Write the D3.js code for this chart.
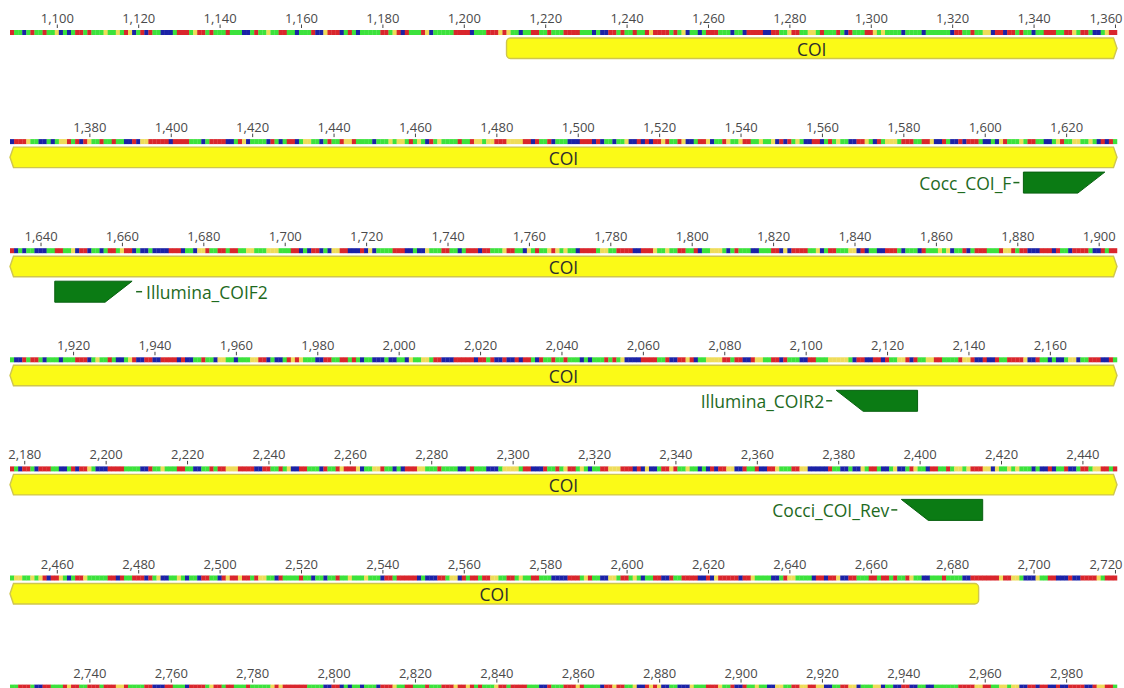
<!DOCTYPE html>
<html>
<head>
<meta charset="utf-8">
<script src="https://cdn.jsdelivr.net/npm/d3@7"></script>
<style>
  html, body { margin: 0; padding: 0; background: #ffffff; }
  svg { display: block; }
</style>
</head>
<body>
<svg id="chart" width="1124" height="688"></svg>
<script>
// ---- sequence data: one string per display row (272 bases each), spaces every 10 bases ----
const firstBase = 1089;
const basesPerRow = 272;
const seqRows = [
  "ATTCTATTAT TGCTCTAATA TTTGTTGTAG CTACATTCCC TAAATGAATA TTTATTTCCT ATTGTTAATT CTTTACCGAA ACTATCTTTT TAATGACATT TAGCTTTTTA AAACTTTAAA GAGTTCTTAA TTATTT" +
  "AAAATTTCTC CAATATTATT AGAAAATATG CTTCTAAATT TCTTCAAAAC CAATTGAATT GGTATTTATC ATTTAAGTGT TTTCTTTTCT TTTTTCAATT ATTGGCAACA ATATTCTTAA ATTAAGTAAT CCTGAA",
  "CAAAGTTCCT CTGGATACAG TTATTATTCC ACGGAAAAAC AAAATTTCTA AAACCTAGCT TTTCATCTAA CTGGTTCTAT TAGGATTTTC TTTGTGGTAT GTCATGTTTT ATTAGGTGGA AAGGGGAACA TTACTT" +
  "TCCCAAACAC TTCTTGCCAC ACAAGATTAG CCTAAGCTTA GTTGAATTGT TGCACATGTC CAACTATGTT CCAAGTCATG GGTAAATTAA GCCATCCACA AATCCTCGAT TTGTAATTCC TGATTGGTTG TCACAT",
  "ACTCTTCCCT TAATTGCAAC TTCTAATGAA CTCCTCCCCA AACTTCGGAT TAATAATTGG TTTGGGTTTA ACTCAACTCG GAACCCACGC TTTTAAACCT CCGTTTAATT CTAAACAATT TGAATTCGTA TTGAGT" +
  "GTTCAAAATG GTTAAAACCA AAGTTGTTAA TTACTTGGGT CTATTTCCTT TAACGCAAAA TTGCTAATTT GGCACTTCCA AATCTTTCAT TTGTGCTTAC TAAATTTAGG ATAACCCAAA CATTCAAAAT CCATAA",
  "TCCATAATCT TTCTTTAAAC TGTTATCCTG ACCAACCAAA ACACCTTATT CGGTTCTTTG GAACTCCTAG AGTTTCCAAT TAATATCTTC CCTCCTTCGT TGGTAACCCA AAAACAATAC CACCACAATC ATTATT" +
  "ATTTCTCTTT ATATGCCCCA AAATTACCAA GACTTGGGGA ATAACCAGGT TAACATTTCC AATTTGGGGG TCAACCAACA TTGGACATTG GAATTTTAGG ACCACCATTA AAAGCCATTC TCCTGGCTTA AACCAT",
  "ATCAATCAAA TTCCTACAAG TCCCAAAATT TTCCATTGTT TAATTCCTTA TAAGGGAAAA CCAATTATGC CAATTTCATT AGAAAGCTTG GATTCTCAAA GGTTTATTTT CCTATTTCCC TGGGGTAACC CATTAT" +
  "GAATGTCTTA AGGGAAACAC GCCTAAGATT GTTCTCACAA GGCCATTACC AAGTTTAAGG CCCCCATTCC TCCGTAATCC TGCCTAGTTC AATTATGGTG AAAGGCGTTG TGTTTCTCCA CTTACCTAAT GGAATA",
  "TGGTTGTGAC AAGTCTAAGT TTTTAACATT AAACATGCCT TGTCTTCAAT TCAGAAGAAT AGGTTCATTT TATTCTTCTT ATTGTTTGTT TCAATAAAAA CTCCCAATGG CATAATAAGG TTAATGTTAA TTTCCC" +
  "CAAATGATTC CGGTAATGTC TTAACCATTA AAACCACGAA AAACAAGTTT TCCTAGGTTT TCAACAAGCC AATTTAATAA TATTAGTTCC TTTATTTTCC AAAAAAAGAA GGTCCCGTTA ACCCACCAAA AGTAAA",
  "TTAAATCCAA TTTAGAATTA AATAAAGGAT TTTAACCCAA TTTCAAAATG AATAATTTAT TTTTGAGAAA AAATTTTCCA ACTCTTCTTT CAAAGTTAAT TTATTTAAAG AAGATATTTG AATAAAATTT CCATTT" +
  "AAAGATTTTC AAGAATTGCC AGAGCCTTCC CGTTTAAAGT TACCATTGTT CCGGTTAAGG AAGGCCTTAA GGCTTTGGCT TCCAACCTTC CTTTTTTAAA AGGAATTGGT GGCCAACAAC CACCAAAACC AGGAAT"
];

// ---- annotated gene ----
const featureName = "COI";
const featureStart = 1211;
const featureEnd = 2686;

// ---- primers ----
const primerNames  = ["Cocc_COI_F", "Illumina_COIF2", "Illumina_COIR2", "Cocci_COI_Rev"];
const primerStarts = [1610, 1644, 2108, 2396];
const primerEnds   = [1629, 1662, 2127, 2415];
const primerStrand = ["+", "+", "-", "-"];
const primerLabelSide = ["left", "right", "left", "left"];

const tickStep = 20;
const baseColors = { A: "#d9262c", C: "#1b22a6", G: "#efdc5a", T: "#3ce23c" };

// ---- layout ----
const FONT = "'Open Sans', 'Noto Sans', 'DejaVu Sans', sans-serif";
const xLeft = 10, xRight = 1117;
const firstRowY = 32.5, rowPitch = 109.1;
const svg = d3.select("#chart");

function barPath(xl, xr, top, h, contL, contR) {
  const b = top + h, r = 4, m = top + h / 2, n = 3.5;
  let p = contL ? `M${xl + n},${top}` : `M${xl + r},${top}`;
  if (contR) p += `L${xr - n},${top}L${xr},${m}L${xr - n},${b}`;
  else p += `L${xr - r},${top}A${r},${r} 0 0 1 ${xr},${top + r}L${xr},${b - r}A${r},${r} 0 0 1 ${xr - r},${b}`;
  if (contL) p += `L${xl + n},${b}L${xl},${m}Z`;
  else p += `L${xl + r},${b}A${r},${r} 0 0 1 ${xl},${b - r}L${xl},${top + r}A${r},${r} 0 0 1 ${xl + r},${top}Z`;
  return p;
}

seqRows.forEach((raw, r) => {
  const s = raw.replace(/\s+/g, "").slice(0, basesPerRow);
  const start = firstBase + r * basesPerRow;
  const end = start + basesPerRow - 1;
  const x = d3.scaleLinear().domain([start - 0.5, end + 0.5]).range([xLeft, xRight]);
  const cy = firstRowY + r * rowPitch;
  const g = svg.append("g").attr("class", "row");

  // coloured bases
  const bases = s.split("").map((b, i) => ({ pos: start + i, b }));
  g.append("g").selectAll("rect").data(bases).join("rect")
    .attr("x", d => x(d.pos - 0.5))
    .attr("width", d => x(d.pos + 0.5) - x(d.pos - 0.5) + 0.25)
    .attr("y", cy - 2.5).attr("height", 5)
    .attr("fill", d => baseColors[d.b]);

  // ruler
  const ticks = d3.range(Math.ceil(start / tickStep) * tickStep, end + 1, tickStep);
  const ag = g.append("g")
    .attr("transform", `translate(0,${cy - 4.5})`)
    .call(d3.axisTop(x).tickValues(ticks).tickFormat(d3.format(",")).tickSize(3.5).tickPadding(1.5))
    .attr("font-family", FONT).attr("font-size", 13);
  ag.select(".domain").remove();
  ag.selectAll(".tick line").attr("stroke", "#444");
  ag.selectAll(".tick text").attr("fill", "#4a4a4a");
  ag.selectAll(".tick").each(function (d) {
    const t = d3.select(this).select("text");
    const w = t.node().getComputedTextLength();
    const cx = x(d);
    const nx = Math.max(3 + w / 2, Math.min(1122 - w / 2, cx));
    t.attr("x", nx - cx);
  });

  // gene bar
  const fs = Math.max(featureStart, start), fe = Math.min(featureEnd, end);
  if (fs <= fe) {
    const xl = x(fs - 0.5), xr = x(fe + 0.5), top = cy + 5.5, h = 20.5;
    g.append("path")
      .attr("d", barPath(xl, xr, top, h, featureStart < start, featureEnd > end))
      .attr("fill", "#fbfa17").attr("stroke", "#cfc64e").attr("stroke-width", 1.4);
    g.append("text")
      .attr("x", (xl + xr) / 2).attr("y", top + h / 2 + 0.5)
      .attr("text-anchor", "middle").attr("dominant-baseline", "central")
      .attr("font-family", FONT).attr("font-size", 17.5).attr("fill", "#2d2d2d")
      .text(featureName);
  }

  // primers
  primerNames.forEach((name, k) => {
    const ps = primerStarts[k], pe = primerEnds[k];
    if (ps < start || ps > end) return;
    const xl = x(ps - 0.5), xr = x(pe + 0.5), top = cy + 30.5, h = 21, slant = 27;
    const pts = primerStrand[k] === "+"
      ? [[xl, top], [xr, top], [xr - slant, top + h], [xl, top + h]]
      : [[xl, top], [xr, top], [xr, top + h], [xl + slant, top + h]];
    g.append("polygon")
      .attr("points", pts.map(p => p.join(",")).join(" "))
      .attr("fill", "#0b7b14").attr("stroke", "#086010").attr("stroke-width", 1);
    const my = top + h / 2;
    const left = primerLabelSide[k] === "left";
    const d0 = left ? xl - 10 : xr + 4, d1 = left ? xl - 4 : xr + 10;
    g.append("line").attr("x1", d0).attr("x2", d1).attr("y1", my).attr("y2", my)
      .attr("stroke", "#1e6a1e").attr("stroke-width", 1.5);
    g.append("text")
      .attr("x", left ? xl - 12 : xr + 14).attr("y", my + 0.5)
      .attr("text-anchor", left ? "end" : "start").attr("dominant-baseline", "central")
      .attr("font-family", FONT).attr("font-size", 17.5).attr("fill", "#1e6a1e")
      .text(name);
  });
});
</script>
</body>
</html>
